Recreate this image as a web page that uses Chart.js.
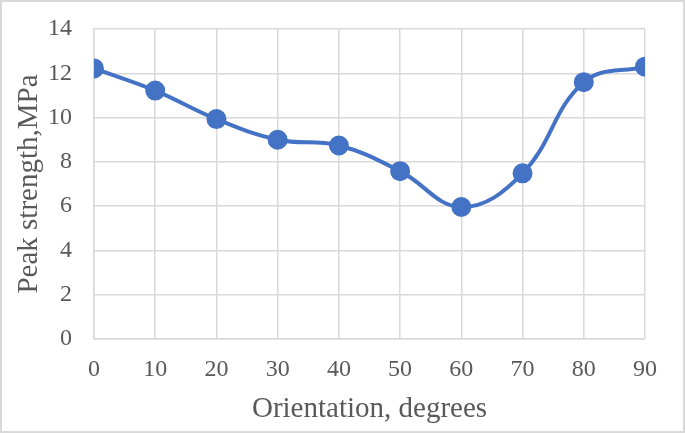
<!DOCTYPE html>
<html>
<head>
<meta charset="utf-8">
<script src="https://cdn.jsdelivr.net/npm/chart.js@4/dist/chart.umd.min.js"></script>
<style>
  html, body { margin: 0; padding: 0; background: #fff; }
  #wrap { position: relative; width: 685px; height: 433px; box-sizing: border-box; border: 2px solid #d9d9d9; }
  canvas { display: block; }
</style>
</head>
<body>
<div id="wrap"><canvas id="chart" width="681" height="429"></canvas></div>
<script>
// Données
const orientations = [0, 10, 20, 30, 40, 50, 60, 70, 80, 90];
const peakStrength = [12.22, 11.22, 9.93, 9.0, 8.74, 7.58, 5.96, 7.48, 11.6, 12.3];

const points = orientations.map((o, i) => ({ x: o, y: peakStrength[i] }));
const fontFamily = "'Liberation Serif', 'Times New Roman', serif";

const ctx = document.getElementById("chart").getContext("2d");
new Chart(ctx, {
    type: 'line',
    data: {
        datasets: [{
            data: points,
            borderColor: '#4472C4',
            backgroundColor: '#4472C4',
            borderWidth: 4,
            pointRadius: 8,
            pointHoverRadius: 8,
            tension: 0.4,
            fill: false
        }]
    },
    options: {
        responsive: false,
        animation: false,
        layout: { padding: { left: 6, right: 38, top: 27, bottom: 0 } },
        plugins: {
            legend: { display: false },
            tooltip: { enabled: false }
        },
        scales: {
            x: {
                type: 'linear',
                min: 0,
                max: 90,
                ticks: { stepSize: 10, color: '#595959', font: { family: fontFamily, size: 24 }, padding: 16 },
                grid: { color: '#d9d9d9', lineWidth: 1.5, drawTicks: false },
                border: { color: '#d9d9d9', width: 1.5 },
                title: { display: true, text: 'Orientation, degrees', color: '#595959', font: { family: fontFamily, size: 29 }, padding: { bottom: 4 } },
                afterFit: (scale) => { scale.height = 92; }
            },
            y: {
                min: 0,
                max: 14,
                ticks: { stepSize: 2, color: '#595959', font: { family: fontFamily, size: 24 }, padding: 22 },
                grid: { color: '#d9d9d9', lineWidth: 1.5, drawTicks: false },
                border: { color: '#d9d9d9', width: 1.5 },
                title: { display: true, text: 'Peak strength,MPa', color: '#595959', font: { family: fontFamily, size: 29 }, padding: { top: 4 } },
                afterFit: (scale) => {
                    scale.width = 86;
                    scale.paddingTop = 0;
                    scale.paddingBottom = 0;
                }
            }
        }
    }
});
</script>
</body>
</html>
